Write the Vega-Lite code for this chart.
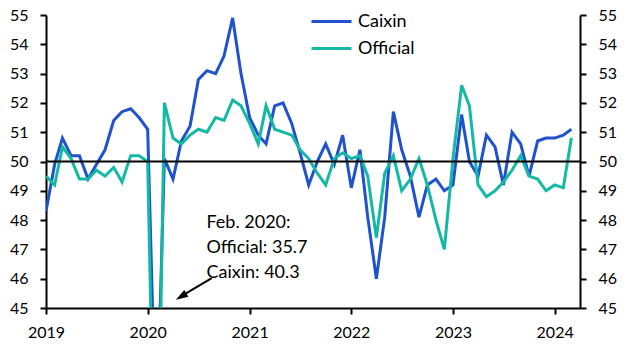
{
  "$schema": "https://vega.github.io/schema/vega-lite/v6.json",
  "width": 534,
  "height": 293,
  "autosize": {"type": "none"},
  "padding": {"left": 46, "top": 15, "right": 48, "bottom": 45},
  "background": "white",
  "config": {
    "view": {"stroke": null},
    "font": "Lato",
    "axis": {
      "domainColor": "black", "domainWidth": 2, "tickColor": "black", "tickWidth": 2, "tickSize": 6,
      "labelFont": "Lato", "labelFontSize": 16, "labelColor": "black", "grid": false, "title": null, "labelOverlap": false
    },
    "legend": {"labelFont": "Lato", "labelFontSize": 18, "labelColor": "black"}
  },
  "datasets": {
    "pmi": [
      {"date": "2019-01-01", "Caixin": 48.3, "Official": 49.5},
      {"date": "2019-02-01", "Caixin": 49.9, "Official": 49.2},
      {"date": "2019-03-01", "Caixin": 50.8, "Official": 50.5},
      {"date": "2019-04-01", "Caixin": 50.2, "Official": 50.1},
      {"date": "2019-05-01", "Caixin": 50.2, "Official": 49.4},
      {"date": "2019-06-01", "Caixin": 49.4, "Official": 49.4},
      {"date": "2019-07-01", "Caixin": 49.9, "Official": 49.7},
      {"date": "2019-08-01", "Caixin": 50.4, "Official": 49.5},
      {"date": "2019-09-01", "Caixin": 51.4, "Official": 49.8},
      {"date": "2019-10-01", "Caixin": 51.7, "Official": 49.3},
      {"date": "2019-11-01", "Caixin": 51.8, "Official": 50.2},
      {"date": "2019-12-01", "Caixin": 51.5, "Official": 50.2},
      {"date": "2020-01-01", "Caixin": 51.1, "Official": 50.0},
      {"date": "2020-02-01", "Caixin": 40.3, "Official": 35.7},
      {"date": "2020-03-01", "Caixin": 50.1, "Official": 52.0},
      {"date": "2020-04-01", "Caixin": 49.4, "Official": 50.8},
      {"date": "2020-05-01", "Caixin": 50.7, "Official": 50.6},
      {"date": "2020-06-01", "Caixin": 51.2, "Official": 50.9},
      {"date": "2020-07-01", "Caixin": 52.8, "Official": 51.1},
      {"date": "2020-08-01", "Caixin": 53.1, "Official": 51.0},
      {"date": "2020-09-01", "Caixin": 53.0, "Official": 51.5},
      {"date": "2020-10-01", "Caixin": 53.6, "Official": 51.4},
      {"date": "2020-11-01", "Caixin": 54.9, "Official": 52.1},
      {"date": "2020-12-01", "Caixin": 53.0, "Official": 51.9},
      {"date": "2021-01-01", "Caixin": 51.5, "Official": 51.3},
      {"date": "2021-02-01", "Caixin": 50.9, "Official": 50.6},
      {"date": "2021-03-01", "Caixin": 50.6, "Official": 51.9},
      {"date": "2021-04-01", "Caixin": 51.9, "Official": 51.1},
      {"date": "2021-05-01", "Caixin": 52.0, "Official": 51.0},
      {"date": "2021-06-01", "Caixin": 51.3, "Official": 50.9},
      {"date": "2021-07-01", "Caixin": 50.3, "Official": 50.4},
      {"date": "2021-08-01", "Caixin": 49.2, "Official": 50.1},
      {"date": "2021-09-01", "Caixin": 50.0, "Official": 49.6},
      {"date": "2021-10-01", "Caixin": 50.6, "Official": 49.2},
      {"date": "2021-11-01", "Caixin": 49.9, "Official": 50.1},
      {"date": "2021-12-01", "Caixin": 50.9, "Official": 50.3},
      {"date": "2022-01-01", "Caixin": 49.1, "Official": 50.1},
      {"date": "2022-02-01", "Caixin": 50.4, "Official": 50.2},
      {"date": "2022-03-01", "Caixin": 48.1, "Official": 49.5},
      {"date": "2022-04-01", "Caixin": 46.0, "Official": 47.4},
      {"date": "2022-05-01", "Caixin": 48.1, "Official": 49.6},
      {"date": "2022-06-01", "Caixin": 51.7, "Official": 50.2},
      {"date": "2022-07-01", "Caixin": 50.4, "Official": 49.0},
      {"date": "2022-08-01", "Caixin": 49.5, "Official": 49.4},
      {"date": "2022-09-01", "Caixin": 48.1, "Official": 50.1},
      {"date": "2022-10-01", "Caixin": 49.2, "Official": 49.2},
      {"date": "2022-11-01", "Caixin": 49.4, "Official": 48.0},
      {"date": "2022-12-01", "Caixin": 49.0, "Official": 47.0},
      {"date": "2023-01-01", "Caixin": 49.2, "Official": 50.1},
      {"date": "2023-02-01", "Caixin": 51.6, "Official": 52.6},
      {"date": "2023-03-01", "Caixin": 50.0, "Official": 51.9},
      {"date": "2023-04-01", "Caixin": 49.5, "Official": 49.2},
      {"date": "2023-05-01", "Caixin": 50.9, "Official": 48.8},
      {"date": "2023-06-01", "Caixin": 50.5, "Official": 49.0},
      {"date": "2023-07-01", "Caixin": 49.2, "Official": 49.3},
      {"date": "2023-08-01", "Caixin": 51.0, "Official": 49.7},
      {"date": "2023-09-01", "Caixin": 50.6, "Official": 50.2},
      {"date": "2023-10-01", "Caixin": 49.5, "Official": 49.5},
      {"date": "2023-11-01", "Caixin": 50.7, "Official": 49.4},
      {"date": "2023-12-01", "Caixin": 50.8, "Official": 49.0},
      {"date": "2024-01-01", "Caixin": 50.8, "Official": 49.2},
      {"date": "2024-02-01", "Caixin": 50.9, "Official": 49.1},
      {"date": "2024-03-01", "Caixin": 51.1, "Official": 50.8}
    ],
    "note": [
      {"date": "2020-07-30", "v": 47.73, "label": "Feb. 2020:"},
      {"date": "2020-07-30", "v": 46.88, "label": "Official: 35.7"},
      {"date": "2020-07-30", "v": 46.02, "label": "Caixin: 40.3"}
    ],
    "arrow": [
      {"date": "2020-08-18", "v": 46.02, "date2": "2020-05-07", "v2": 45.44}
    ],
    "head": [
      {"date": "2020-04-30", "v": 45.39}
    ],
    "ref": [{"v": 50}]
  },
  "layer": [
    {
      "layer": [
        {
          "data": {"name": "pmi"},
          "transform": [{"fold": ["Caixin", "Official"], "as": ["series", "value"]}],
          "mark": {"type": "line", "strokeWidth": 3, "clip": true},
          "encoding": {
            "x": {
              "field": "date", "type": "temporal",
              "scale": {"type": "utc", "domain": [{"year": 2019, "month": 1, "date": 1, "utc": true}, {"year": 2024, "month": 4, "date": 1, "utc": true}]},
              "axis": {
                "values": [
                  {"year": 2019, "month": 1, "date": 1, "utc": true},
                  {"year": 2020, "month": 1, "date": 1, "utc": true},
                  {"year": 2021, "month": 1, "date": 1, "utc": true},
                  {"year": 2022, "month": 1, "date": 1, "utc": true},
                  {"year": 2023, "month": 1, "date": 1, "utc": true},
                  {"year": 2024, "month": 1, "date": 1, "utc": true}
                ],
                "format": "%Y", "formatType": "utc", "labelPadding": 10, "labelFlush": false
              }
            },
            "y": {
              "field": "value", "type": "quantitative",
              "scale": {"domain": [45, 55], "nice": false, "zero": false},
              "axis": {"orient": "left", "values": [45, 46, 47, 48, 49, 50, 51, 52, 53, 54, 55], "labelPadding": 12, "labelOverlap": false}
            },
            "color": {
              "field": "series", "type": "nominal",
              "scale": {"domain": ["Caixin", "Official"], "range": ["#1F52CC", "#13B9A5"]},
              "legend": {
                "title": null, "orient": "none", "legendX": 264, "legendY": -7,
                "symbolType": "stroke", "symbolSize": 1600, "symbolStrokeWidth": 3,
                "labelOffset": 5, "clipHeight": 27, "rowPadding": 0
              }
            }
          }
        },
        {
          "data": {"name": "note"},
          "mark": {"type": "text", "align": "left", "baseline": "alphabetic", "fontSize": 18, "font": "Lato", "color": "black"},
          "encoding": {
            "x": {"field": "date", "type": "temporal"},
            "y": {"field": "v", "type": "quantitative", "axis": {"orient": "left", "values": [45, 46, 47, 48, 49, 50, 51, 52, 53, 54, 55], "labelPadding": 12, "labelOverlap": false}},
            "text": {"field": "label"}
          }
        },
        {
          "data": {"name": "arrow"},
          "mark": {"type": "rule", "color": "black", "strokeWidth": 2},
          "encoding": {
            "x": {"field": "date", "type": "temporal"},
            "y": {"field": "v", "type": "quantitative", "axis": {"orient": "left", "values": [45, 46, 47, 48, 49, 50, 51, 52, 53, 54, 55], "labelPadding": 12, "labelOverlap": false}},
            "x2": {"field": "date2"},
            "y2": {"field": "v2"}
          }
        },
        {
          "data": {"name": "head"},
          "mark": {"type": "point", "shape": "M0,-1L0.65,1L-0.65,1Z", "filled": true, "color": "black", "opacity": 1, "size": 150, "angle": 239},
          "encoding": {
            "x": {"field": "date", "type": "temporal"},
            "y": {"field": "v", "type": "quantitative", "axis": {"orient": "left", "values": [45, 46, 47, 48, 49, 50, 51, 52, 53, 54, 55], "labelPadding": 12, "labelOverlap": false}}
          }
        }
      ]
    },
    {
      "data": {"name": "ref"},
      "mark": {"type": "rule", "color": "black", "strokeWidth": 2},
      "encoding": {
        "y": {
          "field": "v", "type": "quantitative",
          "scale": {"domain": [45, 55], "nice": false, "zero": false},
          "axis": {"orient": "right", "values": [45, 46, 47, 48, 49, 50, 51, 52, 53, 54, 55], "labelPadding": 12}
        }
      }
    }
  ],
  "resolve": {"scale": {"y": "independent"}}
}
